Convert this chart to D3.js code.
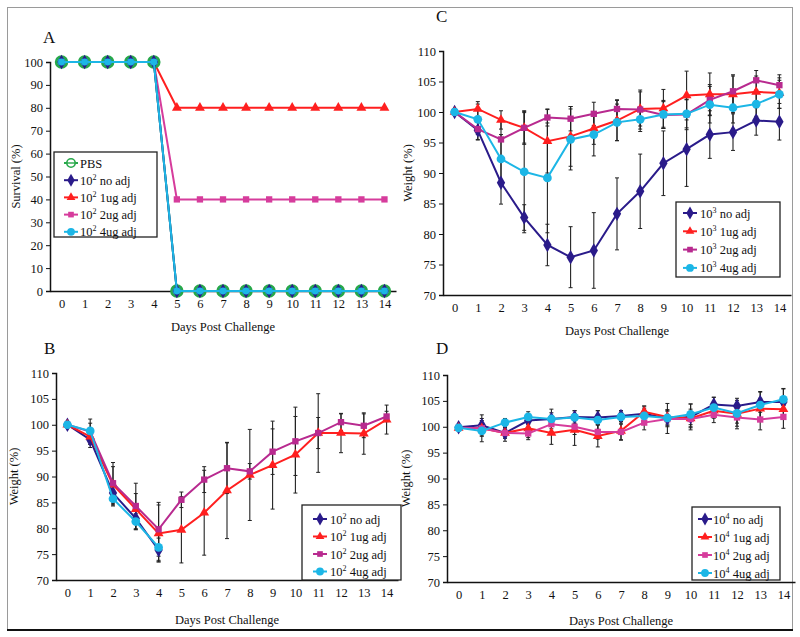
<!DOCTYPE html>
<html><head><meta charset="utf-8">
<script src="https://cdn.jsdelivr.net/npm/d3@7/dist/d3.min.js"></script>
<style>body{margin:0;background:#fff}svg{display:block}text{font-family:"Liberation Serif","Times New Roman",serif;fill:#111}</style>
</head><body><svg id="c" width="800" height="637"></svg>
<script>
const days = d3.range(0, 15);
const dayLabels = days.map(String);
const survivalTicks = [0,10,20,30,40,50,60,70,80,90,100];
const weightTicks = [70,75,80,85,90,95,100,105,110];

// Panel A: survival (%)
const aNames = ["PBS","no adj","1ug adj","2ug adj","4ug adj"];
const aPBS   = [100,100,100,100,100,0,0,0,0,0,0,0,0,0,0];
const aNoAdj = [100,100,100,100,100,0,0,0,0,0,0,0,0,0,0];
const a1ug   = [100,100,100,100,100,80,80,80,80,80,80,80,80,80,80];
const a2ug   = [100,100,100,100,100,40,40,40,40,40,40,40,40,40,40];
const a4ug   = [100,100,100,100,100,0,0,0,0,0,0,0,0,0,0];

// Panel B: 10^2 weight (%)
const bNoAdj = [100,97.1,86.8,81.9,75.8];
const b1ug   = [100,97.7,88.4,83.7,79.0,79.7,83.0,87.3,90.3,92.2,94.2,98.4,98.4,98.3,101.0];
const b2ug   = [100,98.7,88.7,84.3,79.8,85.5,89.4,91.6,91.0,94.8,96.8,98.4,100.5,99.8,101.6];
const b4ug   = [100,98.8,85.7,81.3,76.3];
const bNoAdjErr = [0.5,1.5,2.3,2.2,2.3];
const b1ugErr   = [0.5,1.5,3.5,3.0,5.5,6.4,8.2,9.3,8.8,8.5,7.4,7.6,3.8,4.0,2.8];
const b2ugErr   = [0.5,2.4,4.0,4.4,5.2,1.5,2.5,4.9,1.5,4.4,6.6,3.0,1.6,2.3,1.0];
const b4ugErr   = [0.5,1.5,1.4,1.5,2.5];

// Panel C: 10^3 weight (%)
const cNoAdj = [100,97.0,88.4,82.7,78.2,76.2,77.3,83.3,87.0,91.6,93.9,96.3,96.7,98.6,98.4];
const c1ug   = [100,100.5,98.7,97.4,95.2,96.0,97.3,98.6,100.5,100.6,102.7,102.9,102.9,103.3,103.1];
const c2ug   = [100,97.2,95.5,97.4,99.1,98.9,99.7,100.5,100.4,99.5,99.6,102.0,103.4,105.2,104.4];
const c4ug   = [100,98.8,92.3,90.2,89.2,95.5,96.3,98.3,98.8,99.6,99.7,101.2,100.7,101.3,102.9];
const cNoAdjErr = [0,1.5,3.5,2.1,3.4,5.0,6.2,5.9,6.1,5.3,6.1,3.9,3.0,2.4,3.0];
const c1ugErr   = [0,1.2,1.5,2.5,5.2,4.9,2.6,3.3,2.8,3.1,4.0,3.5,3.0,2.6,2.5];
const c2ugErr   = [0,1.8,3.0,2.7,1.4,2.0,1.9,1.5,3.2,2.2,2.5,2.5,2.7,1.6,1.7];
const c4ugErr   = [0,2.5,4.0,10.0,9.0,5.0,3.5,3.0,2.0,2.3,2.3,3.0,2.5,2.0,2.3];

// Panel D: 10^4 weight (%)
const dNoAdj = [99.9,100.3,98.8,101.2,101.5,101.9,101.8,102.1,102.5,101.6,101.9,104.3,104.0,104.8,104.8];
const d1ug   = [99.8,99.7,98.8,99.7,98.8,99.4,98.2,99.2,102.9,101.9,101.6,103.1,102.5,103.5,103.4];
const d2ug   = [99.8,99.7,98.8,98.7,100.5,100.0,99.0,99.0,100.8,101.5,101.5,102.3,101.8,101.4,101.9];
const d4ug   = [99.8,99.2,100.8,101.9,101.5,101.8,101.3,101.9,102.1,101.7,102.4,103.7,102.6,104.2,105.3];
const dNoAdjErr = [0.3,1.3,1.0,0.8,1.9,1.2,1.3,1.0,1.5,2.9,2.5,1.4,1.5,2.0,2.6];
const d1ugErr   = [0.3,2.6,1.6,1.8,2.2,3.0,2.1,1.8,1.1,1.4,1.8,1.4,1.8,2.0,1.8];
const d2ugErr   = [0.3,1.5,1.0,1.2,1.5,1.5,1.4,1.5,1.4,1.5,1.5,1.5,2.2,2.0,2.2];
const d4ugErr   = [0.3,1.0,0.8,1.0,1.2,1.3,1.8,1.2,1.5,1.5,2.0,2.0,2.5,2.5,2.0];

const NAVY="#2a1b8a", RED="#ff1f1f", MAG="#d63c9c", MAGC="#b82a8f", CYAN="#1cb6e6", GREEN="#27a84a";

const svg = d3.select("#c");
// outer frame
svg.append("rect").attr("x",7.5).attr("y",7.5).attr("width",785).attr("height",622).attr("fill","none").attr("stroke","#9a9a9a");
svg.append("line").attr("x1",7).attr("x2",793).attr("y1",630).attr("y2",630).attr("stroke","#111").attr("stroke-width",2);

function markerPath(type, size){
  const sym = {diamond:d3.symbolDiamond, triangle:d3.symbolTriangle, square:d3.symbolSquare, circle:d3.symbolCircle}[type];
  return d3.symbol().type(sym).size(size)();
}
const mSize = {diamond:60, triangle:42, square:40, circle:60};

function panel(cfg){
  const g = svg.append("g");
  const x = d3.scalePoint().domain(days).range([cfg.left, cfg.right]).padding(0.5);
  const y = d3.scaleLinear().domain(cfg.yDomain).range([cfg.bottom, cfg.top]);
  const ya = d3.axisLeft(y).tickValues(cfg.yTicks).tickSize(4).tickPadding(3);
  const yg = g.append("g").attr("transform",`translate(${cfg.left},0)`).call(ya);
  yg.select(".domain").attr("stroke","#111").attr("stroke-width",1.5);
  yg.selectAll(".tick line").attr("stroke","#111");
  yg.selectAll("text").style("font-size","12.5px").attr("font-family","Liberation Serif").attr("fill","#111");
  const xa = d3.axisBottom(x).tickSize(0).tickPadding(8).tickFormat((d,i)=>dayLabels[i]);
  const xg = g.append("g").attr("transform",`translate(0,${cfg.bottom})`).call(xa);
  xg.select(".domain").attr("stroke","#111").attr("stroke-width",1.5);
  xg.selectAll("text").style("font-size","12.5px").attr("font-family","Liberation Serif").attr("fill","#111");
  // labels
  g.append("text").attr("x",cfg.titleX).attr("y",cfg.titleY).style("font-size","17px").text(cfg.title);
  g.append("text").attr("x",(cfg.left+cfg.right)/2).attr("y",cfg.xLabelY).attr("text-anchor","middle").style("font-size","12.5px").text("Days Post Challenge");
  g.append("text").attr("transform",`translate(${cfg.yLabelX},${(cfg.top+cfg.bottom)/2}) rotate(-90)`).attr("text-anchor","middle").style("font-size","12.5px").text(cfg.yLabel);

  const line = d3.line().x((d,i)=>x(days[i])).y(d=>y(d));
  // error bars
  cfg.series.forEach(s=>{
    if(!s.err) return;
    const eg = g.append("g");
    s.values.forEach((v,i)=>{
      const e = s.err[i]; if(!e) return;
      const cx = x(days[i]);
      eg.append("line").attr("x1",cx).attr("x2",cx).attr("y1",y(v-e)).attr("y2",y(v+e)).attr("stroke","#222").attr("stroke-width",1.1);
      [v-e,v+e].forEach(t=>eg.append("line").attr("x1",cx-2).attr("x2",cx+2).attr("y1",y(t)).attr("y2",y(t)).attr("stroke","#222").attr("stroke-width",1));
    });
  });
  cfg.series.forEach(s=>{
    g.append("path").attr("d",line(s.values)).attr("fill","none").attr("stroke",s.color).attr("stroke-width",2);
    g.selectAll(null).data(s.values).enter().append("path")
      .attr("d", s.marker==="ring" ? d3.symbol().type(d3.symbolCircle).size(95)() : markerPath(s.marker, s.size||mSize[s.marker]))
      .attr("transform",(d,i)=>`translate(${x(days[i])},${y(d)})`)
      .attr("fill", s.marker==="ring" ? "#2fa0c8" : s.color)
      .attr("stroke", s.marker==="ring" ? GREEN : "none")
      .attr("stroke-width", s.marker==="ring" ? 2.5 : 0);
  });
  // legend
  const L = cfg.legend;
  const lg = g.append("g");
  lg.append("rect").attr("x",L.x).attr("y",L.y).attr("width",L.w).attr("height",L.h).attr("fill","#fff").attr("stroke","#222").attr("stroke-width",1.3);
  L.items.forEach((it,i)=>{
    const yy = L.y + L.first + i*L.step;
    lg.append("line").attr("x1",L.mx-7).attr("x2",L.mx+7).attr("y1",yy).attr("y2",yy).attr("stroke",it.color).attr("stroke-width",2);
    if(it.marker==="ring"){
      lg.append("circle").attr("cx",L.mx).attr("cy",yy).attr("r",4.2).attr("fill","#fff").attr("stroke",GREEN).attr("stroke-width",1.6);
      lg.append("line").attr("x1",L.mx-4).attr("x2",L.mx+4).attr("y1",yy).attr("y2",yy).attr("stroke",GREEN).attr("stroke-width",1.4);
    } else {
      lg.append("path").attr("d",markerPath(it.marker,(mSize[it.marker])*0.8)).attr("transform",`translate(${L.mx},${yy})`).attr("fill",it.color);
    }
    const t = lg.append("text").attr("x",L.tx).attr("y",yy+4.5).style("font-size","12.5px");
    if(it.exp){
      t.append("tspan").text("10");
      t.append("tspan").attr("dy",-5).style("font-size","8px").text(it.exp);
      t.append("tspan").attr("dy",5).text(" "+it.name);
    } else t.text(it.name);
  });
}

// Panel A
panel({
  title:"A", titleX:43, titleY:43, left:50, right:396, top:62, bottom:291,
  yDomain:[0,100], yTicks:survivalTicks, yLabel:"Survival (%)", yLabelX:20, xLabelY:331,
  series:[
    {values:a1ug, color:RED, marker:"triangle"},
    {values:a2ug, color:MAG, marker:"square"},
    {values:aPBS, color:GREEN, marker:"ring"},
    {values:aNoAdj, color:NAVY, marker:"diamond"},
    {values:a4ug, color:CYAN, marker:"circle", size:38}
  ],
  legend:{x:54,y:152,w:103,h:85,first:11,step:17.2,mx:71,tx:80,items:[
    {name:aNames[0],color:GREEN,marker:"ring"},
    {name:aNames[1],exp:"2",color:NAVY,marker:"diamond"},
    {name:aNames[2],exp:"2",color:RED,marker:"triangle"},
    {name:aNames[3],exp:"2",color:MAG,marker:"square"},
    {name:aNames[4],exp:"2",color:CYAN,marker:"circle"}]}
});

// Panel B
panel({
  title:"B", titleX:44, titleY:354, left:56, right:398, top:373, bottom:580,
  yDomain:[70,110], yTicks:weightTicks, yLabel:"Weight (%)", yLabelX:18, xLabelY:624,
  series:[
    {values:bNoAdj, err:bNoAdjErr, color:NAVY, marker:"diamond"},
    {values:b1ug, err:b1ugErr, color:RED, marker:"triangle"},
    {values:b2ug, err:b2ugErr, color:MAGC, marker:"square"},
    {values:b4ug, err:b4ugErr, color:CYAN, marker:"circle"}
  ],
  legend:{x:302,y:505,w:99,h:75,first:14,step:17.5,mx:320,tx:330,items:[
    {name:aNames[1],exp:"2",color:NAVY,marker:"diamond"},
    {name:aNames[2],exp:"2",color:RED,marker:"triangle"},
    {name:aNames[3],exp:"2",color:MAGC,marker:"square"},
    {name:aNames[4],exp:"2",color:CYAN,marker:"circle"}]}
});

// Panel C
panel({
  title:"C", titleX:436, titleY:22, left:443, right:791, top:51, bottom:295,
  yDomain:[70,110], yTicks:weightTicks, yLabel:"Weight (%)", yLabelX:412, xLabelY:335,
  series:[
    {values:cNoAdj, err:cNoAdjErr, color:NAVY, marker:"diamond"},
    {values:c1ug, err:c1ugErr, color:RED, marker:"triangle"},
    {values:c2ug, err:c2ugErr, color:MAGC, marker:"square"},
    {values:c4ug, err:c4ugErr, color:CYAN, marker:"circle"}
  ],
  legend:{x:676,y:202,w:104,h:75,first:11,step:18.3,mx:690,tx:700,items:[
    {name:aNames[1],exp:"3",color:NAVY,marker:"diamond"},
    {name:aNames[2],exp:"3",color:RED,marker:"triangle"},
    {name:aNames[3],exp:"3",color:MAGC,marker:"square"},
    {name:aNames[4],exp:"3",color:CYAN,marker:"circle"}]}
});

// Panel D
panel({
  title:"D", titleX:436, titleY:354, left:447, right:795, top:375, bottom:582,
  yDomain:[70,110], yTicks:weightTicks, yLabel:"Weight (%)", yLabelX:410, xLabelY:625,
  series:[
    {values:dNoAdj, err:dNoAdjErr, color:NAVY, marker:"diamond"},
    {values:d1ug, err:d1ugErr, color:RED, marker:"triangle"},
    {values:d2ug, err:d2ugErr, color:MAG, marker:"square"},
    {values:d4ug, err:d4ugErr, color:CYAN, marker:"circle"}
  ],
  legend:{x:692,y:507,w:88,h:73,first:12,step:18,mx:705,tx:713,items:[
    {name:aNames[1],exp:"4",color:NAVY,marker:"diamond"},
    {name:aNames[2],exp:"4",color:RED,marker:"triangle"},
    {name:aNames[3],exp:"4",color:MAG,marker:"square"},
    {name:aNames[4],exp:"4",color:CYAN,marker:"circle"}]}
});
</script></body></html>
